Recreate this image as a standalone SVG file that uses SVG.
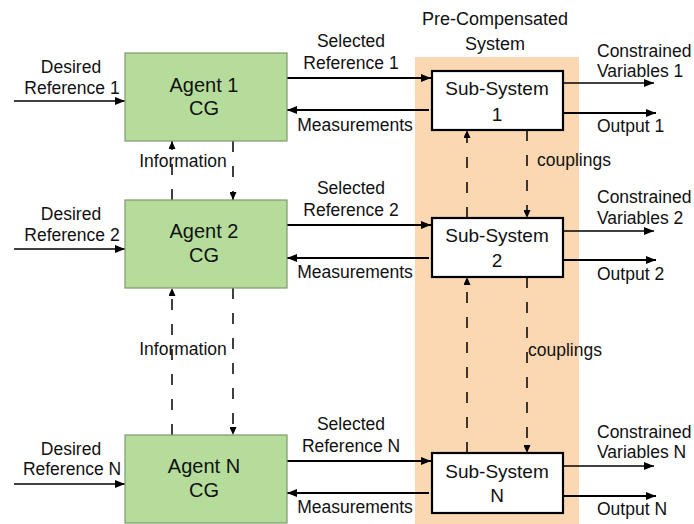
<svg xmlns="http://www.w3.org/2000/svg" width="694" height="524" viewBox="0 0 694 524">
<style>
text{font-family:"Liberation Sans",Arial,sans-serif;fill:#111}
.lbl{font-size:17.5px}
.agt{font-size:20px;text-anchor:middle}
.sub{font-size:19px;text-anchor:middle}
.mid{text-anchor:middle}
.agent{fill:#b5dc9b;stroke:#7c9a6c;stroke-width:1.2}
.ss{fill:#fff;stroke:#000;stroke-width:2.2}
.thick{stroke:#000;stroke-width:2;fill:none}
.thin{stroke:#000;stroke-width:1.3;fill:none}
.dash{stroke:#000;stroke-width:1.5;fill:none;stroke-dasharray:11 14}
</style>
<defs>
<marker id="ah" viewBox="0 0 10 8" refX="10" refY="4" markerWidth="10" markerHeight="8" orient="auto" markerUnits="userSpaceOnUse"><path d="M0,0 L10,4 L0,8 z" fill="#000"/></marker>
<marker id="ahs" viewBox="0 0 8 7" refX="8" refY="3.5" markerWidth="8" markerHeight="7" orient="auto" markerUnits="userSpaceOnUse"><path d="M0,0 L8,3.5 L0,7 z" fill="#000"/></marker>
</defs>
<rect id="precomp" x="415" y="57" width="164" height="467" fill="#fbd8b1"/>
<g id="precomp-label"><text x="495" y="25" class="mid" style="font-size:18px">Pre-Compensated</text><text x="495" y="50" class="mid" style="font-size:18px">System</text></g>

<g id="connectors">
<path class="thin" d="M14,101 H125" marker-end="url(#ah)"/>
<path class="thin" d="M14,249 H125" marker-end="url(#ah)"/>
<path class="thin" d="M14,484 H125" marker-end="url(#ah)"/>
<path class="thick" d="M287,78 H431" marker-end="url(#ah)"/>
<path class="thick" d="M429,110 H287" marker-end="url(#ah)"/>
<path class="thick" d="M287,225 H431" marker-end="url(#ah)"/>
<path class="thick" d="M429,258 H287" marker-end="url(#ah)"/>
<path class="thick" d="M287,461 H431" marker-end="url(#ah)"/>
<path class="thick" d="M429,493 H287" marker-end="url(#ah)"/>
<path class="thin" d="M563,83 H654" marker-end="url(#ah)"/>
<path class="thick" d="M563,113 H656" marker-end="url(#ah)"/>
<path class="thin" d="M563,231 H654" marker-end="url(#ah)"/>
<path class="thick" d="M563,260 H656" marker-end="url(#ah)"/>
<path class="thin" d="M563,466 H654" marker-end="url(#ah)"/>
<path class="thick" d="M563,496 H656" marker-end="url(#ah)"/>
<path class="dash" d="M172,200 V141" marker-end="url(#ahs)"/>
<path class="dash" d="M233,141 V200" marker-end="url(#ahs)"/>
<path class="dash" d="M172,435 V288" marker-end="url(#ahs)"/>
<path class="dash" d="M233,288 V435" marker-end="url(#ahs)"/>
<path class="dash" d="M467,218 V130" marker-end="url(#ahs)"/>
<path class="dash" d="M527,130 V218" marker-end="url(#ahs)"/>
<path class="dash" d="M467,453 V277" marker-end="url(#ahs)"/>
<path class="dash" d="M527,277 V453" marker-end="url(#ahs)"/>
</g>

<g id="agent1"><rect class="agent" x="125" y="53" width="162" height="88"/><text class="agt" x="204" y="92">Agent 1</text><text class="agt" x="204" y="115">CG</text></g>
<g id="agent2"><rect class="agent" x="125" y="200" width="162" height="88"/><text class="agt" x="204" y="238">Agent 2</text><text class="agt" x="204" y="262">CG</text></g>
<g id="agentN"><rect class="agent" x="125" y="435" width="162" height="88"/><text class="agt" x="204" y="473">Agent N</text><text class="agt" x="204" y="497">CG</text></g>

<g id="sub1"><rect class="ss" x="432" y="71" width="131" height="59"/><text class="sub" x="497" y="95">Sub-System</text><text class="sub" x="497" y="121">1</text></g>
<g id="sub2"><rect class="ss" x="432" y="218" width="131" height="59"/><text class="sub" x="497" y="242">Sub-System</text><text class="sub" x="497" y="267">2</text></g>
<g id="subN"><rect class="ss" x="432" y="453" width="131" height="60"/><text class="sub" x="497" y="478">Sub-System</text><text class="sub" x="497" y="502">N</text></g>

<g id="labels" class="lbl">
<text class="lbl mid" x="71" y="73">Desired</text><text class="lbl mid" x="72" y="94">Reference 1</text>
<text class="lbl mid" x="71" y="220">Desired</text><text class="lbl mid" x="72" y="241">Reference 2</text>
<text class="lbl mid" x="71" y="455">Desired</text><text class="lbl mid" x="72" y="475">Reference N</text>
<text class="lbl mid" x="351" y="47">Selected</text><text class="lbl mid" x="351" y="69">Reference 1</text>
<text class="lbl mid" x="351" y="194">Selected</text><text class="lbl mid" x="351" y="216">Reference 2</text>
<text class="lbl mid" x="351" y="430">Selected</text><text class="lbl mid" x="351" y="452">Reference N</text>
<text class="lbl mid" x="355" y="131">Measurements</text>
<text class="lbl mid" x="355" y="278">Measurements</text>
<text class="lbl mid" x="355" y="513">Measurements</text>
<text class="lbl" x="597" y="57">Constrained</text><text class="lbl" x="597" y="77">Variables 1</text>
<text class="lbl" x="597" y="132">Output 1</text>
<text class="lbl" x="597" y="203">Constrained</text><text class="lbl" x="597" y="224">Variables 2</text>
<text class="lbl" x="597" y="280">Output 2</text>
<text class="lbl" x="597" y="438">Constrained</text><text class="lbl" x="597" y="458">Variables N</text>
<text class="lbl" x="597" y="515">Output N</text>
<text class="lbl mid" x="183" y="167">Information</text>
<text class="lbl mid" x="183" y="355">Information</text>
<text class="lbl" x="537" y="166">couplings</text>
<text class="lbl" x="528" y="356">couplings</text>
</g>
</svg>
